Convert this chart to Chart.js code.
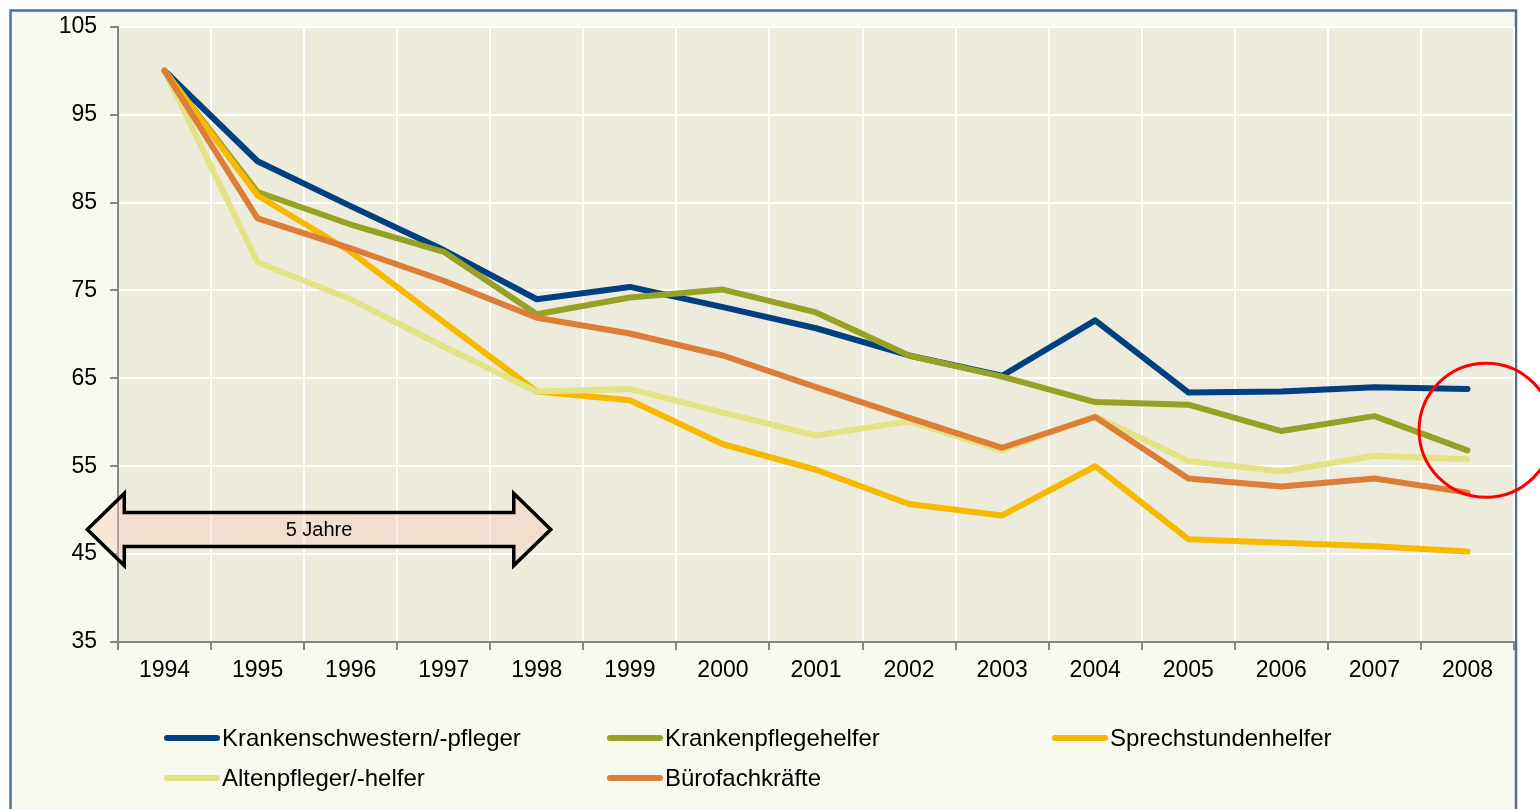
<!DOCTYPE html>
<html>
<head>
<meta charset="utf-8">
<script src="https://cdn.jsdelivr.net/npm/chart.js@4.4.1/dist/chart.umd.min.js"></script>
<style>
  html, body { margin: 0; padding: 0; background: #ffffff; }
  #wrap { position: relative; width: 1540px; height: 809px; }
</style>
</head>
<body>
<div id="wrap"><canvas id="chart" width="1540" height="809"></canvas></div>
<script>
// Index 1994 = 100
const years = ["1994", "1995", "1996", "1997", "1998", "1999", "2000", "2001",
               "2002", "2003", "2004", "2005", "2006", "2007", "2008"];

const krankenschwestern = [100, 89.7, 84.6, 79.6, 74.0, 75.4, 73.1, 70.7, 67.6, 65.3, 71.6, 63.4, 63.5, 64.0, 63.8];
const krankenpflegehelfer = [100, 86.2, 82.5, 79.4, 72.3, 74.2, 75.1, 72.5, 67.6, 65.2, 62.3, 62.0, 59.0, 60.7, 56.8];
const sprechstundenhelfer = [100, 85.8, 79.4, 71.4, 63.5, 62.5, 57.5, 54.6, 50.7, 49.4, 55.0, 46.7, 46.3, 45.9, 45.3];
const altenpfleger = [100, 78.2, 74.0, 68.6, 63.5, 63.8, 61.1, 58.5, 60.1, 56.8, 60.7, 55.6, 54.4, 56.2, 55.8];
const buerofachkraefte = [100, 83.2, 79.8, 76.1, 71.9, 70.1, 67.6, 64.0, 60.5, 57.1, 60.6, 53.6, 52.7, 53.6, 52.0];

const seriesNames = ["Krankenschwestern/-pfleger", "Krankenpflegehelfer", "Sprechstundenhelfer",
                     "Altenpfleger/-helfer", "Bürofachkräfte"];
const seriesColors = ["#003f80", "#97a125", "#f7b800", "#e1e384", "#dc7d38"];
const seriesData = [krankenschwestern, krankenpflegehelfer, sprechstundenhelfer, altenpfleger, buerofachkraefte];

const yTicks = [35, 45, 55, 65, 75, 85, 95, 105];

const FONT = "'Liberation Sans', Arial, sans-serif";

const framePlugin = {
  id: "frame",
  beforeDraw(chart) {
    const ctx = chart.ctx;
    const a = chart.chartArea;
    ctx.save();
    ctx.fillStyle = "#ffffff";
    ctx.fillRect(0, 0, chart.width, chart.height);
    ctx.fillStyle = "#f8f9ee";
    ctx.fillRect(11, 11, a.right + 1 - 11, chart.height);
    ctx.strokeStyle = "#4f6ca8";
    ctx.lineWidth = 2.5;
    ctx.strokeRect(10.5, 10.5, a.right + 2 - 10.5, chart.height + 10);
    ctx.fillStyle = "#edebdc";
    ctx.fillRect(a.left, a.top, a.right - a.left, a.bottom - a.top);
    ctx.restore();
  },
  afterDraw(chart) {
    const ctx = chart.ctx;
    const x = chart.scales.x;
    const y = chart.scales.y;
    ctx.save();

    // "5 Jahre" double arrow
    const xl = x.getPixelForValue(-0.83);
    const xr = x.getPixelForValue(4.15);
    const yc = y.getPixelForValue(47.8);
    const headW = 37, headH = 36, shaftH = 17;
    ctx.beginPath();
    ctx.moveTo(xl, yc);
    ctx.lineTo(xl + headW, yc - headH);
    ctx.lineTo(xl + headW, yc - shaftH);
    ctx.lineTo(xr - headW, yc - shaftH);
    ctx.lineTo(xr - headW, yc - headH);
    ctx.lineTo(xr, yc);
    ctx.lineTo(xr - headW, yc + headH);
    ctx.lineTo(xr - headW, yc + shaftH);
    ctx.lineTo(xl + headW, yc + shaftH);
    ctx.lineTo(xl + headW, yc + headH);
    ctx.closePath();
    ctx.fillStyle = "rgba(245, 205, 185, 0.4)";
    ctx.fill();
    ctx.lineWidth = 3.5;
    ctx.lineJoin = "miter";
    ctx.strokeStyle = "#000000";
    ctx.stroke();
    ctx.fillStyle = "#000000";
    ctx.font = "20px " + FONT;
    ctx.textAlign = "center";
    ctx.textBaseline = "middle";
    ctx.fillText("5 Jahre", (xl + xr) / 2, yc + 1);

    // red circle around 2008
    ctx.beginPath();
    ctx.arc(x.getPixelForValue(14.2), y.getPixelForValue(59.1), 67, 0, Math.PI * 2);
    ctx.strokeStyle = "#ff0000";
    ctx.lineWidth = 3;
    ctx.stroke();

    // legend in three columns
    const colX = [165, 608, 1053];
    const rowY = [738, 778];
    ctx.font = "24px " + FONT;
    ctx.textAlign = "left";
    ctx.textBaseline = "middle";
    ctx.lineCap = "round";
    seriesNames.forEach((name, i) => {
      const cx = colX[i % 3];
      const cy = rowY[Math.floor(i / 3)];
      ctx.beginPath();
      ctx.moveTo(cx + 2, cy);
      ctx.lineTo(cx + 52, cy);
      ctx.strokeStyle = seriesColors[i];
      ctx.lineWidth = 6;
      ctx.stroke();
      ctx.fillStyle = "#000000";
      ctx.fillText(name, cx + 57, cy + 1);
    });
    ctx.restore();
  }
};

const ctx = document.getElementById("chart").getContext("2d");
const chart = new Chart(ctx, {
  type: "line",
  data: {
    labels: years,
    datasets: seriesNames.map((name, i) => ({
      label: name,
      data: seriesData[i],
      borderColor: seriesColors[i],
      backgroundColor: seriesColors[i],
      borderWidth: 6,
      pointRadius: 0,
      tension: 0,
      borderCapStyle: "round",
      borderJoinStyle: "round",
      fill: false,
      order: 5 - i
    }))
  },
  options: {
    responsive: false,
    animation: false,
    layout: { padding: { top: 23, right: 26, left: 0, bottom: 0 } },
    plugins: {
      legend: { display: false },
      tooltip: { enabled: false }
    },
    scales: {
      x: {
        offset: true,
        grid: { offset: true, color: "#ffffff", lineWidth: 2, tickColor: "#868686", tickLength: 8 },
        border: { color: "#868686", width: 2 },
        ticks: { color: "#000000", font: { family: FONT, size: 23 }, padding: 7, maxRotation: 0, autoSkip: false },
        afterFit: s => { s.height = 809 - 642; }
      },
      y: {
        min: 35,
        max: 105,
        afterBuildTicks: s => { s.ticks = yTicks.map(v => ({ value: v })); },
        grid: { color: "#ffffff", lineWidth: 2, tickColor: "#868686", tickLength: 8 },
        border: { color: "#868686", width: 2 },
        ticks: { color: "#000000", font: { family: FONT, size: 23 }, padding: 13 },
        afterFit: s => { s.width = 118; }
      }
    }
  },
  plugins: [framePlugin]
});
</script>
</body>
</html>
